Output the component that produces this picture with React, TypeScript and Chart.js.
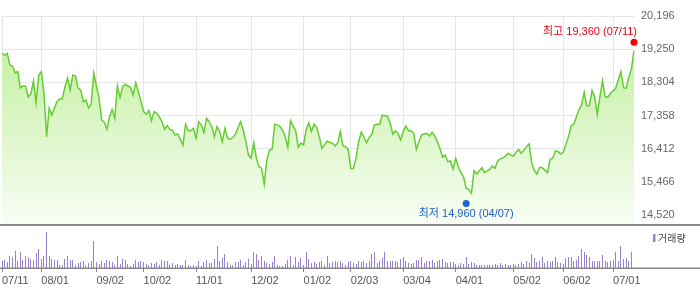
import React, { useEffect, useRef } from "react";
import { Chart, registerables } from "chart.js";

Chart.register(...registerables);

// ---- categories (trading days, 2024-07-11 .. 2025-07-11) ----
const months = ["07", "08", "09", "10", "11", "12", "01", "02", "03", "04", "05", "06", "07"];
const daysJul24 = [11, 12, 15, 16, 17, 18, 19, 22, 23, 24, 25, 26, 29, 30, 31];
const daysAug24 = [1, 2, 5, 6, 7, 8, 9, 12, 13, 14, 16, 19, 20, 21, 22, 23, 26, 27, 28, 29, 30];
const daysSep24 = [2, 3, 4, 5, 6, 9, 10, 11, 12, 13, 19, 20, 23, 24, 25, 26, 27, 30];
const daysOct24 = [2, 4, 7, 8, 10, 11, 14, 15, 16, 17, 18, 21, 22, 23, 24, 25, 28, 29, 30, 31];
const daysNov24 = [1, 4, 5, 6, 7, 8, 11, 12, 13, 14, 15, 18, 19, 20, 21, 22, 25, 26, 27, 28, 29];
const daysDec24 = [2, 3, 4, 5, 6, 9, 10, 11, 12, 13, 16, 17, 18, 19, 20, 23, 24, 26, 27, 30];
const daysJan25 = [2, 3, 6, 7, 8, 9, 10, 13, 14, 15, 16, 17, 20, 21, 22, 23, 24, 31];
const daysFeb25 = [3, 4, 5, 6, 7, 10, 11, 12, 13, 14, 17, 18, 19, 20, 21, 24, 25, 26, 27, 28];
const daysMar25 = [4, 5, 6, 7, 10, 11, 12, 13, 14, 17, 18, 19, 20, 21, 24, 25, 26, 27, 28, 31];
const daysApr25 = [1, 2, 3, 4, 7, 8, 9, 10, 11, 14, 15, 16, 17, 18, 21, 22, 23, 24, 25, 28, 29, 30];
const daysMay25 = [2, 7, 8, 9, 12, 13, 14, 15, 16, 19, 20, 21, 22, 23, 26, 27, 28, 29, 30];
const daysJun25 = [2, 4, 5, 9, 10, 11, 12, 13, 16, 17, 18, 19, 20, 23, 24, 25, 26, 27, 30];
const daysJul25 = [1, 2, 3, 4, 7, 8, 9, 10, 11];
const monthDays = [daysJul24, daysAug24, daysSep24, daysOct24, daysNov24, daysDec24, daysJan25, daysFeb25, daysMar25, daysApr25, daysMay25, daysJun25, daysJul25];

// ---- tick labels ----
const xTickLabels = ["07/11", "08/01", "09/02", "10/02", "11/01", "12/02", "01/02", "02/03", "03/04", "04/01", "05/02", "06/02", "07/01"];
const yTickValues = [14520, 15466, 16412, 17358, 18304, 19250, 20196];
const priceMin = 14235;
const priceMax = 20196;

// ---- series: closing price ----
const prices = [
  19130, 19080, 19130, 18800, 18770, 18570, 18610, 18140, 18200, 18200,
  17890, 17970, 18340, 17720, 18510, 18610, 18000, 16750, 17570, 17370,
  17570, 17760, 17830, 17840, 18170, 18430, 18090, 18510, 18490, 18140,
  18090, 17750, 17800, 17570, 17690, 18570, 18200, 17860, 17230, 17170,
  16970, 17320, 17530, 17280, 18200, 17870, 18180, 18250, 18200, 18160,
  17940, 18290, 18040, 17750, 17470, 17390, 17500, 17210, 17470, 17420,
  17320, 17180, 16960, 17070, 16960, 16940, 16800, 16830, 16680, 16510,
  17110, 16920, 16920, 16990, 16710, 17180, 17090, 16870, 17280, 17180,
  17040, 16750, 17040, 16900, 16610, 16990, 16710, 16680, 16730, 16820,
  17010, 17180, 16940, 16610, 16230, 16140, 16580, 16140, 15900, 15850,
  15400, 16090, 16370, 16390, 17110, 17090, 17040, 16940, 16750, 16450,
  17210, 17060, 16920, 16450, 16570, 16520, 16960, 17150, 16900, 17110,
  17020, 16750, 16420, 16520, 16630, 16590, 16570, 16490, 16570, 16900,
  16490, 16470, 16390, 15850, 15850, 16140, 16610, 16880, 16750, 16580,
  16730, 16820, 17090, 17110, 17110, 17370, 17350, 17340, 17150, 16830,
  16920, 16850, 16660, 16900, 17060, 16920, 16920, 16850, 16390, 16610,
  16800, 16830, 16850, 16770, 16880, 16770, 16610, 16420, 16170, 16230,
  16040, 16060, 15830, 16140, 15900, 15730, 15610, 15280, 15250, 15140,
  15780, 15690, 15780, 15870, 15730, 15780, 15830, 15920, 15850, 16060,
  16120, 16150, 16200, 16280, 16230, 16200, 16310, 16390, 16280, 16370,
  16470, 16550, 16000, 15780, 15690, 15880, 15870, 15800, 15730, 16110,
  16140, 16350, 16330, 16260, 16310, 16520, 16750, 17060, 17110, 17310,
  17520, 17660, 18020, 17630, 17640, 18070, 17890, 17390, 17890, 18350,
  17890, 17880, 17990, 18060, 18130, 18370, 18610, 18150, 18130, 18450,
  18680, 19200,
];

// ---- series: volume ----
const volumes = [
  67, 83, 57, 123, 107, 173, 73, 157, 77, 123,
  110, 93, 83, 150, 193, 93, 117, 363, 123, 90,
  77, 83, 33, 33, 90, 123, 77, 83, 33, 50,
  57, 67, 33, 50, 67, 267, 57, 43, 67, 50,
  77, 67, 57, 33, 123, 43, 90, 83, 43, 23,
  43, 77, 57, 67, 63, 43, 33, 50, 40, 57,
  33, 83, 73, 67, 33, 50, 27, 43, 27, 33,
  83, 33, 23, 33, 23, 73, 23, 57, 83, 50,
  50, 90, 217, 67, 100, 140, 60, 33, 33, 57,
  57, 77, 33, 57, 90, 43, 163, 140, 77, 117,
  73, 50, 43, 57, 123, 33, 23, 23, 40, 77,
  123, 33, 107, 57, 100, 33, 163, 93, 50, 57,
  43, 57, 73, 33, 117, 50, 57, 73, 57, 67,
  50, 33, 57, 73, 50, 40, 73, 60, 73, 50,
  67, 140, 160, 50, 73, 100, 163, 73, 67, 73,
  67, 60, 93, 107, 67, 50, 40, 50, 83, 83,
  107, 50, 73, 67, 83, 50, 67, 83, 93, 57,
  50, 60, 60, 43, 33, 50, 40, 110, 40, 57,
  50, 33, 27, 27, 33, 33, 27, 27, 40, 33,
  50, 33, 43, 33, 27, 40, 33, 40, 57, 40,
  67, 50, 140, 100, 57, 73, 107, 50, 67, 57,
  73, 107, 57, 50, 40, 100, 110, 110, 73, 83,
  117, 190, 160, 133, 107, 67, 73, 67, 67, 133,
  73, 60, 67, 83, 160, 73, 223, 93, 100, 73,
  160, 133,
];
const volumeMax = 400;

// ---- high / low markers ----
const highValue = 19360;
const highDate = "07/11";
const highIndex = 241;
const lowValue = 14960;
const lowDate = "04/07";
const lowIndex = 177;

const FONT = "'Liberation Sans', 'Noto Sans CJK KR', sans-serif";

const dateLabels = months.flatMap((m, k) => monthDays[k].map((d) => `${m}/${String(d).padStart(2, "0")}`));
const tickIndices = xTickLabels.map((l) => dateLabels.indexOf(l));

const fmt = (v: number) => v.toLocaleString("en-US");

export default function App() {
  const upperRef = useRef<HTMLCanvasElement | null>(null);
  const lowerRef = useRef<HTMLCanvasElement | null>(null);

  useEffect(() => {
    if (!upperRef.current || !lowerRef.current) return;

    const annotPlugin = {
      id: "hilo",
      afterDatasetsDraw(chart: any) {
        const { ctx, scales } = chart;
        const x = scales.x;
        const y = scales.y;
        ctx.save();
        ctx.font = `11px ${FONT}`;
        ctx.textBaseline = "middle";
        // high
        const hx = x.getPixelForValue(highIndex);
        const hy = y.getPixelForValue(highValue) - 3;
        ctx.fillStyle = "#ff0000";
        ctx.beginPath();
        ctx.arc(hx, hy, 3.5, 0, Math.PI * 2);
        ctx.fill();
        ctx.fillStyle = "#e60012";
        ctx.textAlign = "right";
        ctx.fillText(`최고 ${fmt(highValue)} (${highDate})`, hx + 3, hy - 10.5);
        // low
        const lx = x.getPixelForValue(lowIndex);
        const ly = y.getPixelForValue(lowValue) + 4;
        ctx.fillStyle = "#1b62d6";
        ctx.beginPath();
        ctx.arc(lx, ly, 3.5, 0, Math.PI * 2);
        ctx.fill();
        ctx.fillStyle = "#1f5fc4";
        ctx.textAlign = "center";
        ctx.fillText(`최저 ${fmt(lowValue)} (${lowDate})`, lx, ly + 10);
        ctx.restore();
      },
      afterDraw(chart: any) {
        const { ctx, chartArea, width } = chart;
        ctx.save();
        ctx.strokeStyle = "#888888";
        ctx.lineWidth = 2;
        ctx.beginPath();
        ctx.moveTo(0, chartArea.bottom);
        ctx.lineTo(width, chartArea.bottom);
        ctx.stroke();
        ctx.restore();
      },
    };

    const volPlugin = {
      id: "volDeco",
      beforeDatasetsDraw(chart: any) {
        // snap the 1px bars to whole pixels so they stay crisp
        const meta = chart.getDatasetMeta(0);
        meta.data.forEach((el: any) => {
          el.x = Math.floor(el.x) + 0.5;
          el.y = Math.round(el.y);
          el.base = Math.round(el.base);
        });
      },
      afterDraw(chart: any) {
        const { ctx, chartArea, width } = chart;
        ctx.save();
        ctx.strokeStyle = "#888888";
        ctx.lineWidth = 1.5;
        ctx.beginPath();
        ctx.moveTo(0, chartArea.bottom + 0.25);
        ctx.lineTo(width, chartArea.bottom + 0.25);
        ctx.stroke();
        // legend
        ctx.fillStyle = "#977fcf";
        ctx.fillRect(653, 6, 2.5, 8);
        ctx.fillStyle = "#444444";
        ctx.font = `10px 'Noto Sans CJK KR', sans-serif`;
        ctx.textAlign = "left";
        ctx.textBaseline = "middle";
        ctx.fillText("거래량", 658, 10);
        ctx.restore();
      },
    };

    const upper = new Chart(upperRef.current, {
      type: "line",
      data: {
        labels: dateLabels,
        datasets: [
          {
            data: prices,
            borderColor: "#66cc33",
            borderWidth: 1.5,
            pointRadius: 0,
            tension: 0,
            fill: "start",
            backgroundColor: (c: any) => {
              const area = c.chart.chartArea;
              if (!area) return "rgba(190,238,150,0.5)";
              const g = c.chart.ctx.createLinearGradient(0, area.top, 0, area.bottom);
              g.addColorStop(0, "#bdee96");
              g.addColorStop(1, "#f8fdf4");
              return g;
            },
          },
        ],
      },
      options: {
        animation: false,
        responsive: false,
        devicePixelRatio: 1,
        layout: { padding: { left: 2, top: 16, right: 0, bottom: 0 } },
        plugins: { legend: { display: false }, tooltip: { enabled: false } },
        scales: {
          x: {
            type: "category",
            offset: false,
            grid: { color: "#e6e6e6", drawTicks: false, offset: false },
            border: { display: false },
            ticks: { display: false, autoSkip: false },
            afterBuildTicks: (ax: any) => {
              ax.ticks = tickIndices.map((v) => ({ value: v }));
            },
            afterFit: (ax: any) => {
              ax.height = 3;
              ax.paddingLeft = 0;
              ax.paddingRight = 0;
            },
          },
          y: {
            position: "right",
            min: priceMin,
            max: priceMax,
            grid: { color: "#e6e6e6", drawTicks: false },
            border: { display: false },
            ticks: {
              padding: 7,
              color: "#666666",
              font: { family: FONT, size: 11 },
              callback: (v: any) => fmt(Number(v)),
            },
            afterBuildTicks: (ax: any) => {
              ax.ticks = yTickValues.map((v) => ({ value: v }));
            },
            afterFit: (ax: any) => {
              ax.width = 66;
              ax.paddingTop = 0;
              ax.paddingBottom = 0;
            },
          },
        },
      } as any,
      plugins: [annotPlugin],
    });

    const lower = new Chart(lowerRef.current, {
      type: "bar",
      data: {
        labels: dateLabels,
        datasets: [
          {
            data: volumes,
            backgroundColor: "#9a80cc",
            barThickness: 1,
            inflateAmount: 0,
          },
        ],
      },
      options: {
        animation: false,
        responsive: false,
        devicePixelRatio: 1,
        layout: { padding: { left: 2, top: 0, right: 66, bottom: 0 } },
        plugins: { legend: { display: false }, tooltip: { enabled: false } },
        scales: {
          x: {
            type: "category",
            offset: false,
            grid: { offset: false, drawOnChartArea: false, drawTicks: true, tickLength: 4, color: "#888888" },
            border: { display: false },
            ticks: {
              autoSkip: false,
              maxRotation: 0,
              minRotation: 0,
              align: "start",
              padding: 2,
              color: "#555555",
              font: { family: FONT, size: 11 },
            },
            afterBuildTicks: (ax: any) => {
              ax.ticks = tickIndices.map((v) => ({ value: v }));
            },
            afterFit: (ax: any) => {
              ax.height = 21;
              ax.paddingLeft = 0;
              ax.paddingRight = 0;
            },
          },
          y: { display: false, min: 0, max: volumeMax },
        },
      } as any,
      plugins: [volPlugin],
    });

    return () => {
      upper.destroy();
      lower.destroy();
    };
  }, []);

  return (
    <div style={{ position: "absolute", left: 0, top: 0, width: 700, height: 289, background: "#ffffff", overflow: "hidden" }}>
      <canvas ref={upperRef} width={700} height={228} style={{ position: "absolute", left: 0, top: 0, display: "block" }} />
      <canvas ref={lowerRef} width={700} height={61} style={{ position: "absolute", left: 0, top: 228, display: "block" }} />
    </div>
  );
}
